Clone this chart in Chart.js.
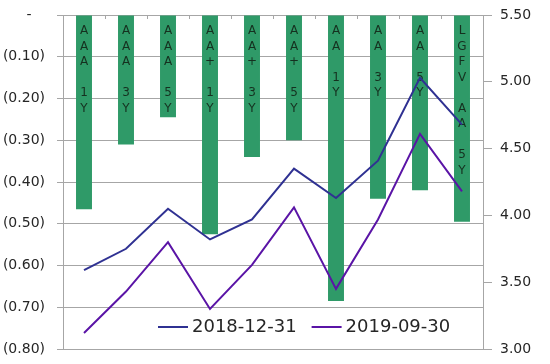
<!DOCTYPE html>
<html>
<head>
<meta charset="utf-8">
<script src="https://cdn.jsdelivr.net/npm/chart.js@4"></script>
<style>
  html, body { margin: 0; padding: 0; background: #fff; }
  canvas { display: block; }
</style>
</head>
<body>
<canvas id="spread-chart" width="550" height="364"></canvas>
<script>
// categories (drawn vertically inside the bars)
const categories = ['AAA 1Y', 'AAA 3Y', 'AAA 5Y', 'AA+ 1Y', 'AA+ 3Y', 'AA+ 5Y', 'AA 1Y', 'AA 3Y', 'AA 5Y', 'LGFV AA 5Y'];
// change, left axis
const spreadChange = [-0.465, -0.31, -0.245, -0.525, -0.34, -0.30, -0.685, -0.44, -0.42, -0.495];
// yields, right axis
const yieldDec2018 = [3.59, 3.75, 4.05, 3.82, 3.97, 4.35, 4.13, 4.41, 5.03, 4.68];
const yieldSep2019 = [3.12, 3.43, 3.80, 3.30, 3.63, 4.06, 3.45, 3.97, 4.61, 4.18];
const seriesNames = ['2018-12-31', '2019-09-30'];

const gridGray = '#A6A6A6';
const textDark = '#262626';

// writes each category one char per line inside its bar
const barLabels = {
    id: 'barLabels',
    afterDatasetDraw(chart, args) {
        if (args.index !== 0) return;
        const ctx = chart.ctx;
        ctx.save();
        ctx.font = '12px "DejaVu Sans"';
        ctx.fillStyle = '#15301F';
        ctx.textAlign = 'center';
        ctx.textBaseline = 'middle';
        args.meta.data.forEach((bar, i) => {
            categories[i].split('').forEach((c, j) => {
                if (c !== ' ') ctx.fillText(c, bar.x, chart.chartArea.top + 16 + j * 15.5);
            });
        });
        ctx.restore();
    },
    afterDraw(chart) {
        // small tick marks under the zero line, between categories
        const ctx = chart.ctx;
        const xs = chart.scales.x;
        const top = chart.chartArea.top;
        ctx.save();
        ctx.strokeStyle = gridGray;
        ctx.lineWidth = 1;
        for (let i = 1; i < categories.length; i++) {
            const bx = Math.round((xs.getPixelForValue(i - 1) + xs.getPixelForValue(i)) / 2) + 0.5;
            ctx.beginPath();
            ctx.moveTo(bx, top);
            ctx.lineTo(bx, top + 4);
            ctx.stroke();
        }
        ctx.restore();
    }
};

// legend for the two lines, inside the plot near the bottom
const lineLegend = {
    id: 'lineLegend',
    afterDraw(chart) {
        const { ctx, chartArea } = chart;
        let x = chartArea.left + 95;
        const y = chartArea.bottom - 22;
        ctx.save();
        ctx.font = '18px "DejaVu Sans"';
        ctx.textBaseline = 'middle';
        [1, 2].forEach(di => {
            const ds = chart.data.datasets[di];
            ctx.strokeStyle = ds.borderColor;
            ctx.lineWidth = 2;
            ctx.beginPath();
            ctx.moveTo(x, y);
            ctx.lineTo(x + 30, y);
            ctx.stroke();
            ctx.fillStyle = textDark;
            ctx.fillText(ds.label, x + 34, y);
            x += 34 + ctx.measureText(ds.label).width + 15;
        });
        ctx.restore();
    }
};

// fixed axis width, no extra vertical room for labels
function fixAxis(w) {
    return scale => {
        scale.width = w;
        scale.paddingTop = 0;
        scale.paddingBottom = 0;
    };
}

const ctx = document.getElementById('spread-chart').getContext('2d');
new Chart(ctx, {
    type: 'bar',
    data: {
        labels: categories,
        datasets: [{
            type: 'bar',
            label: 'change',
            data: spreadChange,
            backgroundColor: '#2F9A68',
            yAxisID: 'y',
            barPercentage: 0.76,
            categoryPercentage: 0.5,
            order: 3
        }, {
            type: 'line',
            label: seriesNames[0],
            data: yieldDec2018,
            borderColor: '#2F3192',
            borderWidth: 2,
            pointRadius: 0,
            tension: 0,
            yAxisID: 'y2',
            order: 2
        }, {
            type: 'line',
            label: seriesNames[1],
            data: yieldSep2019,
            borderColor: '#5A14A6',
            borderWidth: 2,
            pointRadius: 0,
            tension: 0,
            yAxisID: 'y2',
            order: 1
        }]
    },
    options: {
        responsive: false,
        animation: false,
        layout: { autoPadding: false, padding: { top: 15, bottom: 15, left: 0, right: 0 } },
        plugins: {
            legend: { display: false },
            tooltip: { enabled: false }
        },
        scales: {
            x: {
                display: false,
                offset: true
            },
            y: {
                position: 'left',
                min: -0.8,
                max: 0,
                afterFit: fixAxis(63),
                ticks: {
                    stepSize: 0.1,
                    padding: 12,
                    color: textDark,
                    font: { family: 'DejaVu Sans', size: 14 },
                    callback: v => Math.abs(v) < 1e-9 ? '-   ' : '(' + Math.abs(v).toFixed(2) + ')'
                },
                grid: { color: gridGray, tickLength: 6 },
                border: { color: gridGray }
            },
            y2: {
                position: 'right',
                min: 3,
                max: 5.5,
                afterFit: fixAxis(67),
                ticks: {
                    stepSize: 0.5,
                    padding: 8,
                    color: textDark,
                    font: { family: 'DejaVu Sans', size: 14 },
                    callback: v => v.toFixed(2)
                },
                grid: { drawOnChartArea: false, color: gridGray, tickLength: 9 },
                border: { color: gridGray }
            }
        }
    },
    plugins: [barLabels, lineLegend]
});
</script>
</body>
</html>
